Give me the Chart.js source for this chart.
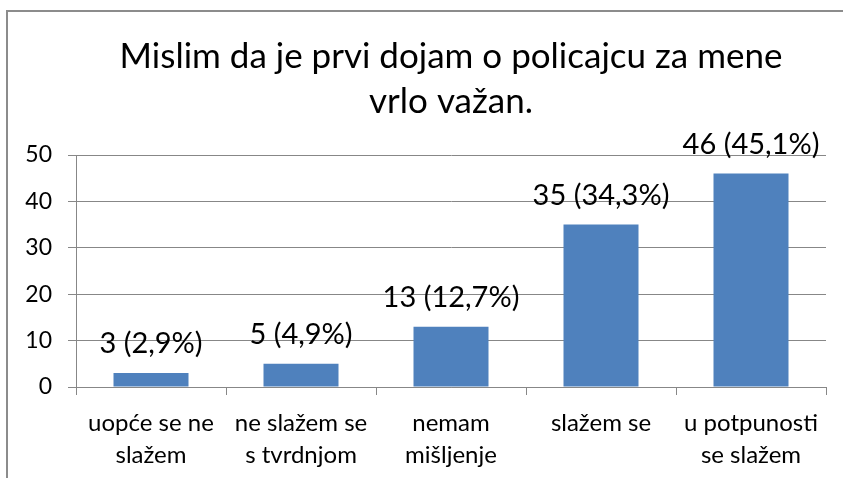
<!DOCTYPE html>
<html>
<head>
<meta charset="utf-8">
<script src="https://cdn.jsdelivr.net/npm/chart.js@4/dist/chart.umd.min.js"></script>
<style>
  html, body { margin: 0; padding: 0; background: #ffffff; overflow: hidden; }
  #wrap { position: relative; width: 843px; height: 478px; }
  #frame {
    position: absolute; left: 6px; top: 10px; width: 900px; height: 500px;
    border-left: 2px solid #8c8c8c; border-top: 2px solid #8c8c8c;
    box-sizing: border-box; pointer-events: none;
  }
  canvas { position: absolute; left: 0; top: 0; }
</style>
</head>
<body>
<div id="wrap">
  <canvas id="chart" width="843" height="478"></canvas>
  <div id="frame"></div>
</div>
<script>
// Survey answers for the statement in the title
const categories = [
  ['uopće se ne', 'slažem'],
  ['ne slažem se', 's tvrdnjom'],
  ['nemam', 'mišljenje'],
  ['slažem se'],
  ['u potpunosti', 'se slažem']
];
const counts = [3, 5, 13, 35, 46];
const percents = ['2,9', '4,9', '12,7', '34,3', '45,1'];
const yTicks = [0, 10, 20, 30, 40, 50];

const FONT = 'Lato, "Open Sans", sans-serif';
const GRID = '#878787';

// Writes "count (percent%)" above each bar
const valueLabels = {
  id: 'valueLabels',
  afterDatasetsDraw(chart) {
    const ctx = chart.ctx;
    const meta = chart.getDatasetMeta(0);
    ctx.save();
    ctx.font = '29px ' + FONT;
    ctx.fillStyle = '#000000';
    ctx.textAlign = 'center';
    ctx.textBaseline = 'alphabetic';
    meta.data.forEach((bar, i) => {
      ctx.fillText(counts[i] + ' (' + percents[i] + '%)', bar.x, bar.y - 20);
    });
    ctx.restore();
  }
};

new Chart(document.getElementById('chart'), {
  type: 'bar',
  data: {
    labels: categories,
    datasets: [{
      data: counts,
      backgroundColor: '#4f81bd',
      borderWidth: 0,
      categoryPercentage: 1.0,
      barPercentage: 0.5
    }]
  },
  options: {
    responsive: false,
    animation: false,
    devicePixelRatio: 1,
    layout: { padding: { left: 0, right: 17, top: 34, bottom: 0 } },
    plugins: {
      legend: { display: false },
      tooltip: { enabled: false },
      title: {
        display: true,
        fullSize: false,
        text: ['Mislim da je prvi dojam o policajcu za mene', 'vrlo važan.'],
        color: '#000000',
        font: { family: FONT, size: 35, weight: 'normal', lineHeight: 1.286 },
        padding: { top: 0, bottom: 31 }
      }
    },
    scales: {
      x: {
        grid: {
          offset: true,
          drawOnChartArea: false,
          drawTicks: true,
          tickLength: 8,
          color: GRID
        },
        border: { display: true, color: GRID, width: 1 },
        ticks: {
          color: '#000000',
          font: { family: FONT, size: 24, lineHeight: 1.33 },
          padding: 12,
          maxRotation: 0,
          autoSkip: false
        },
        afterFit(scale) { scale.height = 91; }
      },
      y: {
        min: 0,
        max: 50,
        afterBuildTicks(scale) { scale.ticks = yTicks.map(v => ({ value: v })); },
        grid: { color: GRID, tickLength: 8, lineWidth: 1 },
        border: { display: true, color: GRID, width: 1 },
        ticks: {
          color: '#000000',
          font: { family: FONT, size: 23 },
          padding: 16
        },
        afterFit(scale) { scale.width = 76; }
      }
    }
  },
  plugins: [valueLabels]
});
</script>
</body>
</html>
